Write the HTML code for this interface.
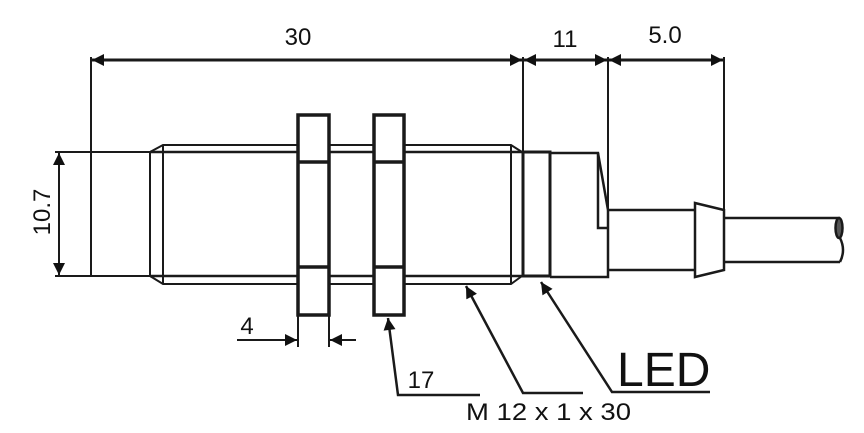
<!DOCTYPE html>
<html><head><meta charset="utf-8"><style>
html,body{margin:0;padding:0;background:#fff;}
svg{display:block;}
text{font-family:"Liberation Sans",Arial,sans-serif;fill:#111;}
</style></head><body>
<svg width="864" height="433" viewBox="0 0 864 433" xmlns="http://www.w3.org/2000/svg">
<defs>
<marker id="b" viewBox="0 0 10 10" refX="10" refY="5" markerWidth="14" markerHeight="12" markerUnits="userSpaceOnUse" orient="auto-start-reverse"><path d="M0,0 L10,5 L0,10 z" fill="#111"/></marker>
</defs>
<g stroke="#1a1a1a" fill="none" stroke-width="2.5">
<line x1="91" y1="57" x2="91" y2="153" stroke-width="2"/>
<line x1="523" y1="57" x2="523" y2="152" stroke-width="2"/>
<line x1="608" y1="57" x2="608" y2="210" stroke-width="2"/>
<line x1="724" y1="57" x2="724" y2="210" stroke-width="2"/>
<line x1="92" y1="60" x2="522" y2="60" stroke-width="3" marker-start="url(#b)" marker-end="url(#b)"/>
<line x1="524" y1="60" x2="607" y2="60" stroke-width="3" marker-start="url(#b)" marker-end="url(#b)"/>
<line x1="609" y1="60" x2="723" y2="60" stroke-width="3" marker-start="url(#b)" marker-end="url(#b)"/>
<line x1="55" y1="152" x2="91" y2="152" stroke-width="2"/>
<line x1="55" y1="276" x2="91" y2="276" stroke-width="2"/>
<line x1="59" y1="153" x2="59" y2="275" stroke-width="2" marker-start="url(#b)" marker-end="url(#b)"/>
<rect x="91" y="152" width="59" height="124" stroke-width="2"/>
<polyline points="150,152 163,145 511,145 522,152" stroke-width="2"/>
<polyline points="150,276 163,284 511,284 522,276" stroke-width="2"/>
<line x1="150" y1="152" x2="523" y2="152"/>
<line x1="150" y1="276" x2="523" y2="276"/>
<line x1="163" y1="145" x2="163" y2="284" stroke-width="2"/>
<line x1="511" y1="145" x2="511" y2="284" stroke-width="2"/>
<rect x="298" y="115" width="31" height="200" stroke-width="3.5" fill="#fff"/>
<line x1="298" y1="162" x2="329" y2="162" stroke-width="3.5"/>
<line x1="298" y1="267" x2="329" y2="267" stroke-width="3.5"/>
<rect x="374" y="115" width="30" height="200" stroke-width="3.5" fill="#fff"/>
<line x1="374" y1="162" x2="404" y2="162" stroke-width="3.5"/>
<line x1="374" y1="267" x2="404" y2="267" stroke-width="3.5"/>
<rect x="523" y="152" width="27" height="124" stroke-width="3"/>
<polyline points="550,153 598,153 608,210"/>
<polyline points="598,153 598,228 608,228"/>
<polyline points="550,277 608,277 608,210"/>
<line x1="608" y1="210" x2="695" y2="210"/>
<line x1="608" y1="270" x2="695" y2="270"/>
<polygon points="695,203 724,210 724,270 695,277"/>
<line x1="724" y1="218" x2="840" y2="218"/>
<line x1="724" y1="262" x2="840" y2="262"/>
<ellipse cx="839" cy="228" rx="3.5" ry="10" fill="#555"/>
<path d="M840,238 Q846,250 840,262"/>
<line x1="298" y1="315" x2="298" y2="347" stroke-width="2"/>
<line x1="329" y1="315" x2="329" y2="347" stroke-width="2"/>
<line x1="237" y1="340" x2="297" y2="340" stroke-width="2" marker-end="url(#b)"/>
<line x1="356" y1="340" x2="330" y2="340" stroke-width="2" marker-end="url(#b)"/>
<polyline points="480,395 398,395 388,318" stroke-width="2.5" marker-end="url(#b)"/>
<polyline points="583,393 523,393 466,286" stroke-width="2.5" marker-end="url(#b)"/>
<polyline points="710,392 612,392 541,282" stroke-width="2.5" marker-end="url(#b)"/>
</g>
<text x="298" y="45" font-size="24" text-anchor="middle">30</text>
<text x="565" y="47" font-size="24" text-anchor="middle">11</text>
<text x="665" y="43" font-size="24" text-anchor="middle">5.0</text>
<text transform="translate(50,212) rotate(-90)" font-size="24" text-anchor="middle">10.7</text>
<text x="247" y="334" font-size="24" text-anchor="middle">4</text>
<text x="421" y="388" font-size="24" text-anchor="middle">17</text>
<text x="466" y="420" font-size="24" textLength="165" lengthAdjust="spacingAndGlyphs">M 12 x 1 x 30</text>
<text x="617" y="386" font-size="48">LED</text>
</svg>
</body></html>
